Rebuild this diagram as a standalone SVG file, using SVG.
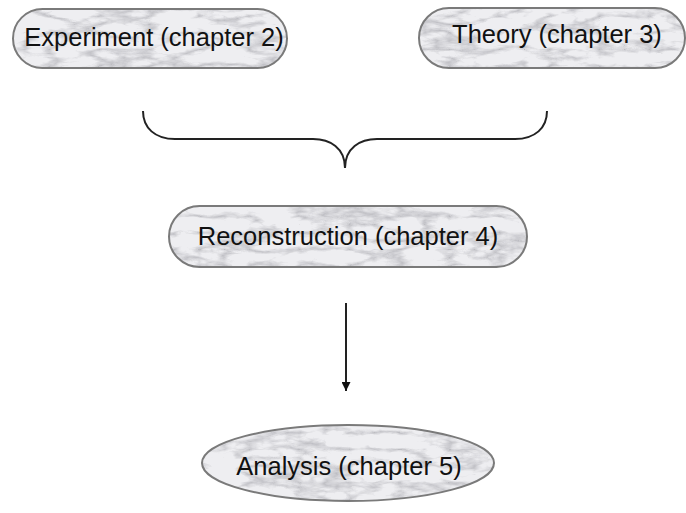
<svg xmlns="http://www.w3.org/2000/svg" width="686" height="513" viewBox="0 0 686 513">
<defs>
<filter id="marble" x="0" y="0" width="1" height="1" color-interpolation-filters="sRGB">
<feTurbulence type="turbulence" baseFrequency="0.02 0.06" numOctaves="4" seed="3" result="t"/>
<feColorMatrix in="t" type="matrix" values="0 0 0 0 0.55  0 0 0 0 0.55  0 0 0 0 0.58  -1.5 0 0 0 0.5" result="streak"/>
<feComposite in="streak" in2="SourceGraphic" operator="in" result="clip"/>
<feMerge><feMergeNode in="SourceGraphic"/><feMergeNode in="clip"/></feMerge>
</filter>
<marker id="arr" viewBox="0 0 10 10" refX="10" refY="5" markerWidth="4.5" markerHeight="4.5" orient="auto" markerUnits="strokeWidth">
<path d="M0,0 L10,5 L0,10 z" fill="#111"/>
</marker>
</defs>
<style>
.fill{fill:#eeeef1;filter:url(#marble)}
.edge{fill:none;stroke:#7a7a7a;stroke-width:2}
text{font-family:"Liberation Sans",Arial,sans-serif;font-size:25.5px;fill:#111;text-anchor:middle}
.conn{fill:none;stroke:#222;stroke-width:2}
</style>
<rect width="686" height="513" fill="#fff"/>
<g id="experiment">
<rect class="fill" x="13" y="9" width="274" height="59" rx="29.5"/>
<rect class="edge" x="13" y="9" width="274" height="59" rx="29.5"/>
<text x="154" y="46">Experiment (chapter 2)</text>
</g>
<g id="theory">
<rect class="fill" x="419" y="8" width="266" height="60" rx="30"/>
<rect class="edge" x="419" y="8" width="266" height="60" rx="30"/>
<text x="557" y="43">Theory (chapter 3)</text>
</g>
<g id="reconstruction">
<rect class="fill" x="169" y="206" width="358" height="61" rx="30.5"/>
<rect class="edge" x="169" y="206" width="358" height="61" rx="30.5"/>
<text x="348" y="245">Reconstruction (chapter 4)</text>
</g>
<g id="analysis">
<ellipse class="fill" cx="348" cy="463" rx="146" ry="38"/>
<ellipse class="edge" cx="348" cy="463" rx="146" ry="38"/>
<text x="349" y="475">Analysis (chapter 5)</text>
</g>
<g id="connectors">
<path class="conn" d="M143,111 C143,128 155,139 175,139 L313,139 C330,139 345,148 345,168 C345,148 360,139 377,139 L515,139 C535,139 547,128 547,111"/>
<line class="conn" x1="346" y1="303" x2="346" y2="391" marker-end="url(#arr)"/>
</g>
</svg>
